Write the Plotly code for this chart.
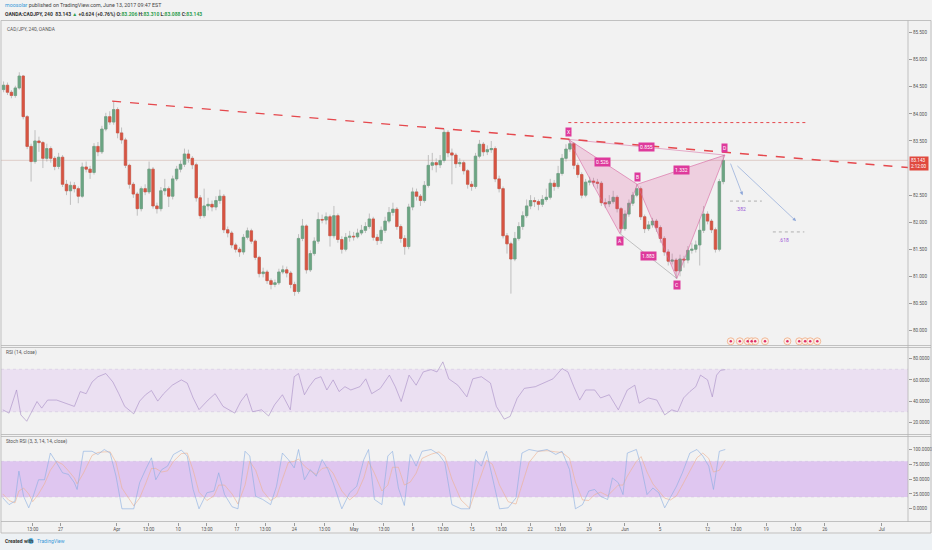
import plotly.graph_objects as go

W, H = 932, 550

# CAD/JPY, 8-hour bars from 20 Mar 2017 (bar 0) to 13 Jun 2017
first_open = 84.45
closes = [84.53, 84.40, 84.34, 84.48, 84.70, 83.95, 83.40, 83.12, 83.50, 83.47,
          83.18, 83.36, 83.18, 83.03, 83.20, 82.70, 82.58, 82.68, 82.62, 82.48,
          83.02, 82.98, 82.92, 83.40, 83.30, 83.72, 83.95, 83.85, 84.08, 83.65,
          83.52, 83.05, 82.70, 82.52, 82.25, 82.62, 82.56, 82.98, 82.30, 82.25,
          82.58, 82.62, 82.48, 82.80, 82.98, 83.07, 83.26, 83.18, 83.06, 82.45,
          82.12, 82.30, 82.33, 82.28, 82.40, 82.48, 81.86, 81.80, 81.58, 81.50,
          81.45, 81.72, 81.84, 81.65, 81.35, 81.05, 81.08, 80.92, 80.85, 80.88,
          81.08, 81.12, 81.06, 80.85, 80.72, 81.70, 81.93, 81.12, 81.42, 81.65,
          82.05, 82.04, 82.10, 81.75, 82.12, 81.68, 81.50, 81.72, 81.74, 81.73,
          81.80, 81.85, 81.92, 82.06, 81.72, 81.66, 81.85, 82.02, 82.18, 82.24,
          81.92, 81.70, 81.55, 82.28, 82.56, 82.48, 82.40, 82.68, 83.05, 83.10,
          83.06, 83.14, 83.66, 83.28, 83.24, 83.08, 83.10, 82.95, 82.70, 82.66,
          83.22, 83.44, 83.30, 83.34, 83.36, 82.80, 82.62, 81.75, 81.60, 81.32,
          81.70, 81.92, 82.12, 82.30, 82.40, 82.38, 82.33, 82.42, 82.46, 82.72,
          82.66, 82.90, 83.18, 83.35, 83.45, 83.05, 82.88, 82.50, 82.74, 82.76,
          82.74, 82.72, 82.36, 82.34, 82.38, 82.46, 82.25, 81.88, 82.15, 82.35,
          82.50, 82.62, 82.10, 81.88, 81.95, 82.02, 81.90, 81.70, 81.45, 81.28,
          81.30, 81.10, 81.32, 81.30, 81.48, 81.50, 81.58, 81.85, 82.15, 82.02,
          81.86, 81.50, 82.75, 83.14]
highs = [84.60, 84.58, 84.44, 84.52, 84.77, 84.72, 83.98, 83.45, 83.70, 83.58,
         83.50, 83.45, 83.40, 83.22, 83.28, 83.24, 82.78, 82.75, 82.74, 82.66,
         83.10, 83.12, 83.04, 83.46, 83.48, 83.78, 84.02, 84.05, 84.24, 84.12,
         83.75, 83.56, 83.08, 82.74, 82.56, 82.66, 82.70, 83.12, 83.02, 82.36,
         82.65, 82.80, 82.66, 82.86, 83.04, 83.14, 83.36, 83.34, 83.22, 83.10,
         82.50, 82.62, 82.45, 82.40, 82.48, 82.60, 82.52, 81.92, 81.84, 81.62,
         81.54, 81.78, 81.90, 81.88, 81.68, 81.38, 81.16, 81.12, 80.96, 80.94,
         81.14, 81.20, 81.18, 81.10, 80.90, 81.78, 82.06, 81.96, 81.48, 81.72,
         82.18, 82.14, 82.18, 82.14, 82.30, 82.16, 81.74, 81.80, 81.84, 81.82,
         81.88, 81.95, 82.00, 82.16, 82.10, 81.78, 81.92, 82.10, 82.28, 82.36,
         82.28, 81.96, 81.76, 82.34, 82.64, 82.62, 82.52, 82.76, 83.24, 83.28,
         83.18, 83.24, 83.73, 83.70, 83.36, 83.28, 83.18, 83.14, 82.98, 82.76,
         83.28, 83.52, 83.48, 83.42, 83.50, 83.40, 82.86, 82.66, 81.80, 81.64,
         81.82, 82.00, 82.20, 82.42, 82.50, 82.46, 82.42, 82.50, 82.62, 82.80,
         82.78, 83.04, 83.26, 83.44, 83.53, 83.48, 83.10, 82.92, 82.80, 82.84,
         82.82, 82.80, 82.76, 82.44, 82.50, 82.58, 82.50, 82.28, 82.22, 82.42,
         82.56, 82.70, 82.66, 82.14, 82.02, 82.08, 82.06, 81.94, 81.74, 81.50,
         81.42, 81.34, 81.40, 81.38, 81.56, 81.62, 81.66, 82.05, 82.30, 82.20,
         82.06, 81.90, 82.80, 83.24]
lows = [84.40, 84.35, 84.29, 84.30, 84.45, 83.90, 83.35, 82.75, 83.08, 83.30,
        83.00, 83.12, 83.10, 82.96, 82.98, 82.65, 82.50, 82.32, 82.55, 82.35,
        82.45, 82.92, 82.80, 82.88, 83.22, 83.26, 83.68, 83.80, 83.80, 83.55,
        83.45, 83.00, 82.62, 82.45, 82.12, 82.20, 82.50, 82.52, 82.25, 82.16,
        82.20, 82.50, 82.28, 82.42, 82.76, 82.92, 83.02, 83.10, 82.98, 82.38,
        82.06, 82.08, 82.22, 82.20, 82.22, 82.34, 81.80, 81.72, 81.52, 81.44,
        81.36, 81.40, 81.68, 81.60, 81.30, 80.98, 80.98, 80.86, 80.76, 80.80,
        80.84, 81.04, 80.98, 80.78, 80.64, 80.68, 81.65, 81.05, 81.08, 81.38,
        81.60, 81.98, 81.96, 81.55, 81.70, 81.62, 81.42, 81.46, 81.64, 81.66,
        81.70, 81.76, 81.80, 81.88, 81.66, 81.58, 81.60, 81.80, 81.98, 82.12,
        81.86, 81.62, 81.40, 81.50, 82.22, 82.40, 82.30, 82.36, 82.64, 82.96,
        82.92, 83.00, 83.10, 83.20, 82.70, 83.00, 83.02, 82.88, 82.62, 82.58,
        82.62, 83.18, 83.22, 83.24, 83.28, 82.74, 82.55, 81.70, 81.42, 80.68,
        81.28, 81.66, 81.86, 82.08, 82.24, 82.28, 82.22, 82.28, 82.38, 82.42,
        82.58, 82.62, 82.86, 83.12, 83.30, 82.98, 82.82, 82.44, 82.46, 82.68,
        82.66, 82.62, 82.30, 82.26, 82.28, 82.34, 82.18, 81.79, 81.84, 82.10,
        82.30, 82.46, 82.04, 81.80, 81.84, 81.90, 81.82, 81.62, 81.38, 81.20,
        81.22, 80.96, 81.00, 81.16, 81.24, 81.42, 81.44, 81.20, 81.80, 81.96,
        81.80, 81.44, 81.46, 82.70]

# RSI (14, close) (bar position, value)
rsi_bar = [-0.2, 1.4, 3.3, 4.4, 5.9, 7.4, 8.5, 9.7, 11.2, 13.5, 15.7, 18.0, 19.5, 21.0,
           22.5, 24.0, 26.0, 27.8, 29.3, 30.8, 33.1, 34.6, 36.1, 37.6, 39.2, 40.7, 42.9,
           45.2, 46.7, 48.2, 49.7, 52.0, 53.8, 55.8, 58.8, 60.3, 61.8, 63.3, 65.6, 67.4,
           68.9, 70.9, 72.9, 73.9, 75.0, 76.5, 77.7, 79.2, 80.7, 82.2, 83.8, 85.3, 86.8,
           88.3, 90.6, 92.1, 93.6, 95.8, 98.1, 99.6, 101.1, 103.1, 104.9, 106.7, 108.7,
           110.2, 111.7, 113.2, 115.5, 117.8, 119.3, 121.5, 123.8, 125.3, 127.3, 128.8,
           130.6, 132.4, 135.2, 137.4, 139.7, 142.0, 143.5, 145.0, 146.5, 148.0, 150.3,
           151.8, 154.0, 156.3, 158.6, 160.5, 161.6, 163.9, 166.1, 168.1, 169.9, 171.4,
           172.9, 174.5, 176.0, 177.2, 179.0, 180.2, 181.3, 182.3, 183.5]
rsi_val = [31.8, 28.7, 50.5, 27.0, 21.0, 31.8, 39.6, 33.4, 41.0, 41.0, 38.0, 35.0, 49.0, 47.0,
           58.0, 63.0, 66.0, 58.0, 47.0, 35.0, 28.0, 40.0, 46.0, 50.0, 40.0, 47.0, 55.0,
           60.0, 57.0, 43.0, 32.0, 41.0, 47.0, 35.0, 28.7, 39.6, 47.0, 30.0, 31.8, 26.0,
           36.5, 46.0, 31.8, 63.0, 66.0, 46.0, 53.6, 61.0, 63.0, 50.5, 60.0, 49.0, 53.6,
           50.5, 53.6, 61.0, 47.0, 52.0, 64.5, 53.6, 39.6, 64.5, 55.0, 67.5, 69.7,
           67.5, 77.0, 61.0, 55.0, 44.0, 61.0, 63.0, 57.0, 35.0, 23.0, 25.6,
           42.7, 52.0, 53.6, 57.0, 61.0, 70.7, 67.5, 53.6, 41.0, 50.5, 50.5,
           43.0, 46.0, 31.8, 50.5, 55.0, 38.0, 43.0, 41.0, 27.0, 31.8, 30.0,
           43.0, 49.0, 53.6, 64.5, 60.0, 44.0, 64.5, 69.0, 69.7]

# Stoch RSI (3, 3, 14, 14, close): %K and %D
stoch_bar = [-0.2, 1.4, 2.9, 3.9, 5.1, 6.4, 7.4, 8.9, 10.4, 11.9, 13.5, 15.0, 16.5, 18.0,
             18.7, 20.3, 22.5, 24.0, 25.6, 27.1, 28.6, 30.1, 33.1, 34.6, 36.1, 37.6, 38.7,
             40.2, 41.7, 43.2, 45.2, 46.7, 48.2, 49.7, 51.7, 53.5, 54.7, 56.2, 58.1, 59.6,
             61.4, 62.6, 64.1, 65.9, 67.9, 69.4, 70.9, 72.4, 73.9, 75.0, 76.5, 78.0, 79.5,
             81.0, 82.5, 83.8, 86.0, 88.0, 89.8, 91.6, 92.8, 94.3, 96.2, 97.7, 98.9, 100.4,
             101.9, 103.4, 104.9, 106.4, 108.7, 110.7, 112.2, 114.0, 116.3, 118.5, 120.0,
             121.5, 122.8, 124.3, 126.1, 128.3, 130.3, 131.8, 133.6, 135.9, 138.2, 140.4,
             142.0, 143.9, 145.4, 147.2, 148.8, 150.3, 151.8, 153.6, 154.8, 156.3, 157.5,
             158.6, 160.9, 162.1, 163.6, 165.1, 166.6, 168.1, 169.6, 171.1, 172.6, 174.5,
             176.3, 177.8, 179.3, 180.5, 182.0, 183.5]
stoch_k = [18.5, 7.0, 13.0, 63.5, 21.0, 1.7, 18.5, 49.0, 49.0, 94.0, 77.5, 60.7, 58.0, 44.0,
           32.6, 97.0, 97.0, 91.6, 100.0, 94.0, 55.0, 0.0, 0.0, 44.0, 66.0, 86.0, 49.0,
           66.0, 72.0, 91.6, 99.0, 89.0, 32.6, 0.0, 27.0, 30.0, 60.7, 24.0, 3.4, 0.0,
           97.0, 89.0, 21.0, 15.7, 7.0, 38.0, 94.0, 83.0, 69.0, 100.0, 49.0, 66.0, 55.0,
           83.0, 66.0, 44.0, 0.0, 27.0, 38.0, 83.0, 100.0, 15.7, 7.0, 89.0, 97.0, 35.0,
           5.6, 91.6, 72.0, 97.0, 100.0, 91.6, 77.5, 7.0, 0.0, 0.0, 83.0,
           72.0, 97.0, 55.0, 0.0, 1.7, 18.5, 94.0, 100.0, 97.0, 100.0, 91.6,
           97.0, 66.0, 0.0, 7.0, 30.0, 32.6, 21.0, 15.7, 52.0, 44.0, 24.0,
           94.0, 100.0, 72.0, 24.0, 35.0, 27.0, 1.7, 21.0, 38.0, 60.7, 94.0,
           100.0, 89.0, 72.0, 32.6, 97.0, 100.0]
stoch_d = [25.0, 14.0, 10.0, 30.0, 35.0, 25.0, 12.0, 25.0, 42.0, 65.0, 80.0, 75.0, 64.0, 52.0,
           42.0, 60.0, 90.0, 95.0, 96.0, 96.0, 78.0, 35.0, 5.0, 18.0, 42.0, 68.0, 68.0,
           62.0, 64.0, 80.0, 93.0, 94.0, 65.0, 28.0, 14.0, 22.0, 40.0, 40.0, 25.0, 8.0,
           40.0, 80.0, 65.0, 30.0, 14.0, 20.0, 50.0, 78.0, 80.0, 84.0, 72.0, 64.0, 58.0,
           68.0, 70.0, 60.0, 30.0, 15.0, 25.0, 52.0, 80.0, 60.0, 30.0, 40.0, 70.0, 70.0,
           40.0, 45.0, 60.0, 85.0, 92.0, 96.0, 88.0, 50.0, 15.0, 1.0, 30.0,
           58.0, 82.0, 75.0, 40.0, 12.0, 8.0, 40.0, 78.0, 97.0, 98.0, 96.0,
           95.0, 85.0, 45.0, 15.0, 14.0, 24.0, 28.0, 22.0, 30.0, 40.0, 40.0,
           55.0, 80.0, 88.0, 62.0, 42.0, 30.0, 18.0, 15.0, 22.0, 40.0, 65.0,
           86.0, 94.0, 85.0, 62.0, 65.0, 82.0]

# XABCD pattern (bar, price) and its ratios
pattern_names = ['X', 'A', 'B', 'C', 'D']
pattern_bar = [143.6, 156.7, 161.1, 171.2, 183.4]
pattern_price = [83.53, 81.79, 82.70, 80.96, 83.24]
ratio_text = ['0.526', '0.855', '1.332', '1.883']

# drawings
trend_bar = [27.6, 230.0]
trend_price = [84.236, 83.01]
resist_bar = [143.6, 204.3]
resist_price = 83.84
fib_names = ['.382', '.618']
fib_bar = [[184.7, 192.8], [195.6, 203.6]]
fib_price = [82.39, 81.82]
arrow_from = [(184.7, 83.11), (186.2, 83.065)]
arrow_to = [(187.9, 82.50), (201.5, 82.02)]
event_bar = [184.9, 187.2, 189.2, 190.2, 191.1, 193.6, 199.3, 202.3, 203.8, 205.1, 206.9]
last_price = 83.143

# price scale labels (83.000 sits under the last-price tag)
price_ticks = [80.0, 80.5, 81.0, 81.5, 82.0, 82.5, 83.5, 84.0, 84.5, 85.0, 85.5]
tick_bar = [7.4, 14.5, 28.8, 36.9, 44.4, 51.7, 59.3, 66.5, 73.9, 81.6, 89.1, 96.7, 104.1,
            111.7, 119.1, 126.5, 133.9, 141.5, 148.9, 158.0, 166.9, 179.0, 186.2, 193.9,
            201.4, 208.8, 223.3]
tick_text = ['13:00', '27', 'Apr', '13:00', '10', '13:00', '17', '13:00', '24', '13:00', 'May',
             '13:00', '8', '13:00', '15', '13:00', '22', '13:00', '29', 'Jun', '5', '12',
             '13:00', '19', '13:00', '26', 'Jul']

GREEN = '#6ba583'
RED = '#d75442'
WICK = '#a9a9a9'
BG = '#f2f2f2'
FRAME = '#b4b4b4'
PINK = '#de3a9c'
TXT = '#555555'
FONT = 'Liberation Sans Narrow, Roboto, sans-serif'


def px_x(px):
    return px / W


def px_y(py):
    return 1 - py / H


opens = [first_open] + closes[:-1]
bars = list(range(len(closes)))
body_hi = [max(o, c) for o, c in zip(opens, closes)]
body_lo = [min(o, c) for o, c in zip(opens, closes)]

fig = go.Figure()

# candles: grey wicks underneath, coloured bodies on top
fig.add_trace(go.Candlestick(x=bars, open=opens, high=highs, low=lows, close=closes,
                             increasing=dict(line=dict(color=WICK, width=0.7), fillcolor=WICK),
                             decreasing=dict(line=dict(color=WICK, width=0.7), fillcolor=WICK),
                             whiskerwidth=0, hoverinfo='skip', showlegend=False))
fig.add_trace(go.Candlestick(x=bars, open=opens, high=body_hi, low=body_lo, close=closes,
                             increasing=dict(line=dict(color=GREEN, width=0.6), fillcolor=GREEN),
                             decreasing=dict(line=dict(color=RED, width=0.6), fillcolor=RED),
                             whiskerwidth=0, hoverinfo='skip', showlegend=False))

# harmonic pattern
px_, py_ = pattern_bar, pattern_price
for tri in [(0, 1, 2), (2, 3, 4)]:
    fig.add_trace(go.Scatter(x=[px_[i] for i in tri] + [px_[tri[0]]],
                             y=[py_[i] for i in tri] + [py_[tri[0]]],
                             mode='lines', fill='toself', fillcolor='rgba(225,70,150,0.2)',
                             line=dict(color='rgba(215,100,160,0.75)', width=0.8),
                             hoverinfo='skip', showlegend=False))
for a, b, col in [(0, 4, 'rgba(215,100,160,0.75)'), (1, 3, 'rgba(150,150,150,0.8)')]:
    fig.add_trace(go.Scatter(x=[px_[a], px_[b]], y=[py_[a], py_[b]], mode='lines',
                             line=dict(color=col, width=0.7), hoverinfo='skip', showlegend=False))

# trendline
fig.add_trace(go.Scatter(x=trend_bar, y=trend_price, mode='lines',
                         line=dict(color='#e5484d', width=1.4, dash='dash'),
                         hoverinfo='skip', showlegend=False))
fig.add_trace(go.Scatter(x=resist_bar, y=[resist_price] * 2, mode='lines',
                         line=dict(color='#e5484d', width=1, dash='dot'),
                         hoverinfo='skip', showlegend=False))
for seg, lvl in zip(fib_bar, fib_price):
    fig.add_trace(go.Scatter(x=seg, y=[lvl] * 2, mode='lines',
                             line=dict(color='#a0a0a0', width=0.8, dash='dot'),
                             hoverinfo='skip', showlegend=False))

# event flags at the bottom of the price pane
event_level = 79.80
fig.add_trace(go.Scatter(x=event_bar, y=[event_level] * len(event_bar), mode='markers',
                         marker=dict(size=7, color='#fbefe8', line=dict(color='#f0b48e', width=0.9)),
                         hoverinfo='skip', showlegend=False))
fig.add_trace(go.Scatter(x=event_bar, y=[event_level] * len(event_bar), mode='markers',
                         marker=dict(size=2.5, color='#e0306a'),
                         hoverinfo='skip', showlegend=False))

# RSI pane
fig.add_trace(go.Scatter(x=rsi_bar, y=rsi_val, mode='lines', xaxis='x2', yaxis='y2',
                         line=dict(color='#a68cc4', width=0.6), hoverinfo='skip', showlegend=False))
# Stoch RSI pane
fig.add_trace(go.Scatter(x=stoch_bar, y=stoch_d, mode='lines', xaxis='x3', yaxis='y3',
                         line=dict(color='#efb08e', width=0.6), hoverinfo='skip', showlegend=False))
fig.add_trace(go.Scatter(x=stoch_bar, y=stoch_k, mode='lines', xaxis='x3', yaxis='y3',
                         line=dict(color='#88ade0', width=0.6), hoverinfo='skip', showlegend=False))

xr = [-0.65, 229.96]
xdom = [px_x(1), px_x(908)]
tickfont = dict(family=FONT, size=4.6, color=TXT)
common_x = dict(range=xr, domain=xdom, showgrid=False, zeroline=False, fixedrange=True,
                showline=False)
common_y = dict(side='right', ticks='outside', ticklen=3, tickcolor='#999999', tickwidth=0.6,
                tickfont=tickfont, showgrid=False, zeroline=False, fixedrange=True)

fig.update_layout(
    width=W, height=H, margin=dict(l=0, r=0, t=0, b=0),
    paper_bgcolor=BG, plot_bgcolor=BG, showlegend=False, boxgap=0.12,
    xaxis=dict(common_x, anchor='y', showticklabels=False, rangeslider=dict(visible=False)),
    xaxis2=dict(common_x, anchor='y2', showticklabels=False),
    xaxis3=dict(common_x, anchor='y3', tickvals=tick_bar, ticktext=tick_text, ticks='outside',
                ticklen=3, tickcolor='#999999', tickwidth=0.6, tickfont=tickfont),
    yaxis=dict(common_y, domain=[px_y(345.5), px_y(20.5)], range=[79.722, 85.726], anchor='x',
               tickvals=price_ticks, tickformat='.3f'),
    yaxis2=dict(common_y, domain=[px_y(434.5), px_y(347.5)], range=[8.54, 90.53], anchor='x2',
                tickvals=[20, 40, 60, 80], tickformat='.4f'),
    yaxis3=dict(common_y, domain=[px_y(521.5), px_y(436.5)], range=[-21.4, 121.9], anchor='x3',
                tickvals=[0, 25, 50, 75, 100], tickformat='.4f'),
)

shapes = []
# indicator bands
shapes.append(dict(type='rect', xref='x2 domain', yref='y2', x0=0, x1=1, y0=30, y1=70,
                   fillcolor='#ebe0f2', line=dict(width=0), layer='below'))
shapes.append(dict(type='rect', xref='x3 domain', yref='y3', x0=0, x1=1, y0=20, y1=80,
                   fillcolor='#dfc6f0', line=dict(width=0), layer='below'))
for yr, lvl in [('y2', 30), ('y2', 70), ('y3', 20), ('y3', 80)]:
    shapes.append(dict(type='line', xref=yr.replace('y', 'x') + ' domain', yref=yr, x0=0, x1=1,
                       y0=lvl, y1=lvl, line=dict(color='#cdbfdc', width=0.5, dash='dot'),
                       layer='below'))
# last price line
shapes.append(dict(type='line', xref='x domain', yref='y', x0=0, x1=1, y0=last_price,
                   y1=last_price, line=dict(color='rgba(205,175,165,0.7)', width=0.8),
                   layer='below'))
# bottom credit strip
shapes.append(dict(type='rect', xref='paper', yref='paper', x0=0, x1=1, y0=0, y1=px_y(534),
                   fillcolor='#edf1f4', line=dict(width=0), layer='below'))
# pane frames
shapes.append(dict(type='rect', xref='paper', yref='paper', x0=px_x(1), x1=px_x(931),
                   y0=px_y(533), y1=px_y(20.5), line=dict(color=FRAME, width=0.8)))
shapes.append(dict(type='line', xref='paper', yref='paper', x0=px_x(908), x1=px_x(908),
                   y0=px_y(522), y1=px_y(20.5), line=dict(color=FRAME, width=0.8)))
for py in [345.5, 347.5, 434.5, 436.5, 521.5]:
    shapes.append(dict(type='line', xref='paper', yref='paper', x0=px_x(1), x1=px_x(931),
                       y0=px_y(py), y1=px_y(py), line=dict(color=FRAME, width=0.8)))
# TradingView logo mark
shapes.append(dict(type='circle', xref='paper', yref='paper', x0=px_x(28.5), x1=px_x(33.5),
                   y0=px_y(544), y1=px_y(538), fillcolor='#59b8e6', line=dict(width=0)))
fig.update_layout(shapes=shapes)

ann = []
small = dict(family=FONT, size=4.8, color=TXT)
ann.append(dict(xref='paper', yref='paper', x=px_x(3), y=px_y(5), xanchor='left', yanchor='middle',
                showarrow=False, font=dict(family=FONT, size=5.3, color='#444444'),
                text="<span style='color:#3a9ad9'>moosolar</span> published on TradingView.com, "
                     "June 13, 2017 09:47 EST"))
ann.append(dict(xref='paper', yref='paper', x=px_x(3), y=px_y(14.5), xanchor='left',
                yanchor='middle', showarrow=False, font=dict(family=FONT, size=5, color='#333333'),
                text="<b>OANDA:CADJPY, 240  83.143 <span style='color:#2f9e4f'>▲</span> +0.624 "
                     "(+0.76%) O:<span style='color:#2f9e4f'>83.206</span> "
                     "H:<span style='color:#2f9e4f'>83.310</span> "
                     "L:<span style='color:#2f9e4f'>83.088</span> "
                     "C:<span style='color:#2f9e4f'>83.143</span></b>"))
ann.append(dict(xref='paper', yref='paper', x=px_x(5), y=px_y(29), xanchor='left',
                yanchor='middle', showarrow=False, font=small, text='CAD/JPY, 240, OANDA'))
ann.append(dict(xref='paper', yref='paper', x=px_x(4), y=px_y(352.5), xanchor='left',
                yanchor='middle', showarrow=False, font=small, text='RSI (14, close)'))
ann.append(dict(xref='paper', yref='paper', x=px_x(4), y=px_y(441.5), xanchor='left',
                yanchor='middle', showarrow=False, font=small,
                text='Stoch RSI (3, 3, 14, 14, close)'))
ann.append(dict(xref='paper', yref='paper', x=px_x(3), y=px_y(541), xanchor='left',
                yanchor='middle', showarrow=False, font=dict(family=FONT, size=5, color='#333333'),
                text="<b>Created with</b>"))
ann.append(dict(xref='paper', yref='paper', x=px_x(35), y=px_y(541), xanchor='left',
                yanchor='middle', showarrow=False, font=dict(family=FONT, size=5, color='#3a9ad9'),
                text='TradingView'))
# last price tag on the scale
ann.append(dict(xref='paper', yref='y', x=px_x(908.5), y=last_price, xanchor='left',
                yanchor='top', yshift=4, showarrow=False, align='left',
                font=dict(family=FONT, size=4.6, color='white'), bgcolor='#e0493e', borderpad=1,
                text='83.143<br>2:12:00'))

# pattern vertex letters
for i, name in enumerate(pattern_names):
    up = name in ('X', 'B', 'D')
    ann.append(dict(x=pattern_bar[i], y=pattern_price[i], xref='x', yref='y', text=name,
                    showarrow=False, yshift=7 if up else -7, font=dict(family=FONT, size=5,
                                                                      color='white'),
                    bgcolor=PINK, borderpad=1))
# ratio tags on the legs X-B, X-D, B-D, A-C
for (a, b), txt in zip([(0, 2), (0, 4), (2, 4), (1, 3)], ratio_text):
    ann.append(dict(x=(pattern_bar[a] + pattern_bar[b]) / 2,
                    y=(pattern_price[a] + pattern_price[b]) / 2, xref='x', yref='y', text=txt,
                    showarrow=False, font=dict(family=FONT, size=5, color='white'),
                    bgcolor=PINK, borderpad=1))
# projection arrows and fib labels
for (x0, y0), (x1, y1) in zip(arrow_from, arrow_to):
    ann.append(dict(x=x1, y=y1, ax=x0, ay=y0, xref='x', yref='y', axref='x', ayref='y', text='',
                    showarrow=True, arrowhead=2, arrowsize=1, arrowwidth=0.7,
                    arrowcolor='#8ea7d8'))
for name, seg, lvl in zip(fib_names, fib_bar, fib_price):
    ann.append(dict(x=seg[0] + 1, y=lvl, xref='x', yref='y', text=name, showarrow=False,
                    xanchor='left', yshift=-8, font=dict(family=FONT, size=5, color='#9b55d6')))
fig.update_layout(annotations=ann)

# the page body keeps its default 8px margin otherwise
fig.write_html("out.html", config={'displayModeBar': False},
               post_script="document.body.style.margin='0px';")
